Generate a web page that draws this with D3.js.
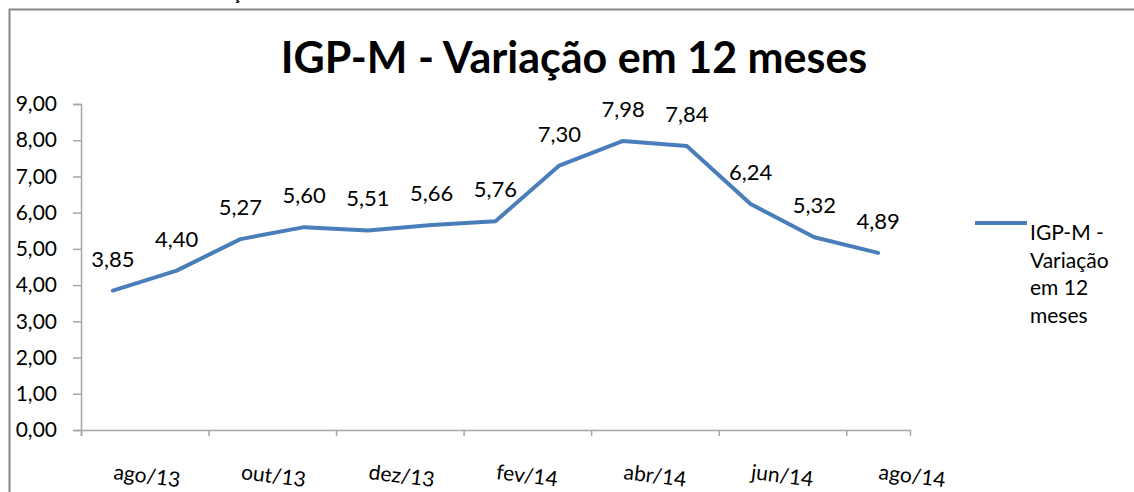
<!DOCTYPE html>
<html>
<head>
<meta charset="utf-8">
<script src="https://cdn.jsdelivr.net/npm/d3@7"></script>
<style>
  body { margin: 0; background: #fff; }
  text { font-family: Lato, "Open Sans", sans-serif; fill: #000; }
</style>
</head>
<body>
<div id="chart"></div>
<script>
const categories = ["ago/13", "set/13", "out/13", "nov/13", "dez/13", "jan/14", "fev/14",
  "mar/14", "abr/14", "mai/14", "jun/14", "jul/14", "ago/14"];
const values = [3.85, 4.40, 5.27, 5.60, 5.51, 5.66, 5.76, 7.30, 7.98, 7.84, 6.24, 5.32, 4.89];
const yTicks = [0, 1, 2, 3, 4, 5, 6, 7, 8, 9];
const xTickLabels = ["ago/13", "out/13", "dez/13", "fev/14", "abr/14", "jun/14", "ago/14"];
const seriesName = "IGP-M - Variação em 12 meses";
const legendLines = ["IGP-M -", "Variação", "em 12", "meses"];

const W = 1134, H = 492;
const fmt = d => d.toFixed(2).replace(".", ",");

const svg = d3.select("#chart").append("svg")
  .attr("width", W).attr("height", H);

// caption of the page, cut off by the top edge like in the scan
svg.append("text")
  .attr("x", 28).attr("y", 0)
  .attr("font-size", 18).attr("font-weight", "bold")
  .text("Gráfico 3 – IGP-M – Variação em 12 meses.");

// chart frame
svg.append("rect")
  .attr("x", 9.5).attr("y", 9.5)
  .attr("width", 1140).attr("height", 500)
  .attr("fill", "#fff").attr("stroke", "#868686").attr("stroke-width", 2);

svg.append("text")
  .attr("x", 574).attr("y", 73)
  .attr("text-anchor", "middle")
  .attr("font-size", 43).attr("font-weight", "bold")
  .text(seriesName);

const x = d3.scaleBand().domain(categories).range([81, 910]);
const xEdge = d3.scaleLinear().domain([0, categories.length]).range([81, 910]);
const y = d3.scaleLinear().domain([0, 9]).range([430, 104]);

// y axis
const yAxis = svg.append("g")
  .attr("transform", "translate(81,0)")
  .call(d3.axisLeft(y).tickValues(yTicks).tickFormat(fmt).tickSize(8).tickPadding(16));
yAxis.selectAll("text").attr("font-size", 21);

// x axis, ticks between every second category
const xAxis = svg.append("g")
  .attr("transform", "translate(0,430)")
  .call(d3.axisBottom(xEdge).tickValues(d3.range(0, categories.length, 2)).tickFormat("").tickSize(6));

[yAxis, xAxis].forEach(g => {
  g.select(".domain").attr("stroke", "#a6a6a6").attr("stroke-width", 1.5);
  g.selectAll(".tick line").attr("stroke", "#a6a6a6").attr("stroke-width", 1.5);
});

svg.append("g").selectAll("text")
  .data(xTickLabels)
  .join("text")
  .attr("transform", d => `translate(${x(d) + x.bandwidth() / 2},479) rotate(7)`)
  .attr("font-size", 21)
  .text(d => d);

// line
const line = d3.line()
  .x((d, i) => x(categories[i]) + x.bandwidth() / 2)
  .y(d => y(d));

svg.append("path")
  .datum(values)
  .attr("fill", "none")
  .attr("stroke", "#4a7ebb")
  .attr("stroke-width", 4)
  .attr("stroke-linejoin", "round")
  .attr("stroke-linecap", "round")
  .attr("d", line);

// data labels
svg.append("g").selectAll("text")
  .data(values)
  .join("text")
  .attr("x", (d, i) => x(categories[i]) + x.bandwidth() / 2)
  .attr("y", d => y(d) - 24)
  .attr("text-anchor", "middle")
  .attr("font-size", 22)
  .text(fmt);

// legend
svg.append("line")
  .attr("x1", 975).attr("x2", 1027)
  .attr("y1", 223).attr("y2", 223)
  .attr("stroke", "#4a7ebb").attr("stroke-width", 4);

svg.append("g").selectAll("text")
  .data(legendLines)
  .join("text")
  .attr("x", 1030)
  .attr("y", (d, i) => 240 + i * 27.7)
  .attr("font-size", 21)
  .text(d => d);
</script>
</body>
</html>
